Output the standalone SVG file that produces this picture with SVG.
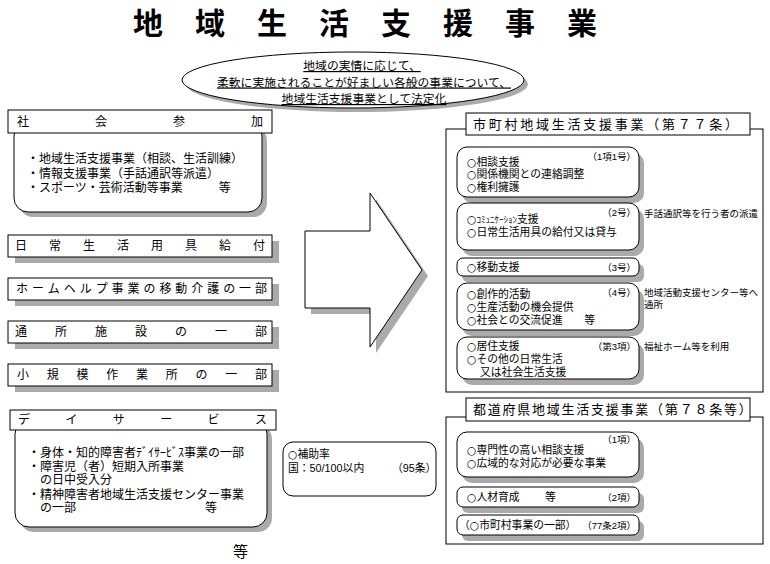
<svg xmlns="http://www.w3.org/2000/svg" width="770" height="564" viewBox="0 0 770 564">
<defs>
<style>
text{font-family:"Liberation Sans","Noto Sans CJK JP",sans-serif;fill:#000}
.o{font-family:"DejaVu Sans","Noto Sans CJK JP",sans-serif}
.box{fill:#fff;stroke:#000;stroke-width:1}
.sh{fill:#aaa;stroke:none}
.h12{font-size:12px}
.b12{font-size:12px}
.i11{font-size:10.8px}
.n9{font-size:9.5px}
.end{text-anchor:end}
.ul{font-size:11.8px;text-decoration:underline;text-anchor:middle}
</style>
</defs>
<rect width="770" height="564" fill="#fff"/>

<g id="title">
<text x="133" y="34" font-size="30" font-weight="bold" letter-spacing="32">地域生活支援事業</text>
</g>

<g id="summary">
<ellipse class="sh" cx="357" cy="84" rx="171" ry="28"/>
<ellipse class="box" cx="353" cy="80" rx="171" ry="28"/>
<text class="ul"><tspan x="362" y="70">地域の実情に応じて、</tspan><tspan x="364" y="86.5">柔軟に実施されることが好ましい各般の事業について、</tspan><tspan x="364" y="103">地域生活支援事業として法定化</tspan></text>
</g>

<g id="shakai-sanka">
<rect class="sh" x="19" y="127" width="248" height="90" rx="14"/>
<rect class="box" x="14" y="122" width="248" height="90" rx="14"/>
<rect class="box" x="8" y="110" width="264" height="23"/>
<text class="h12" x="17 95 173 251" y="126">社会参加</text>
<text class="b12"><tspan x="27" y="163">・地域生活支援事業（相談、生活訓練）</tspan><tspan x="27" y="177.5">・情報支援事業（手話通訳等派遣）</tspan><tspan x="27" y="192">・スポーツ・芸術活動等事業　　　等</tspan></text>
</g>

<g id="nichijo">
<rect class="sh" x="15" y="241" width="264" height="22"/>
<rect class="box" x="8" y="235" width="264" height="22"/>
<text class="h12" x="15 49 83 117 151 185 219 253" y="250">日常生活用具給付</text>
</g>

<g id="homehelp">
<rect class="sh" x="15" y="284" width="264" height="22"/>
<rect class="box" x="8" y="278" width="264" height="22"/>
<text class="h12" x="16 31.93 47.87 63.8 79.73 95.67 111.6 127.53 143.47 159.4 175.33 191.27 207.2 223.13 239.07 255" y="293">ホームヘルプ事業の移動介護の一部</text>
</g>

<g id="tsusho">
<rect class="sh" x="15" y="327" width="264" height="22"/>
<rect class="box" x="8" y="321" width="264" height="22"/>
<text class="h12" x="15 55 95 135 175 215 255" y="336">通所施設の一部</text>
</g>

<g id="shokibo">
<rect class="sh" x="15" y="370" width="264" height="22"/>
<rect class="box" x="8" y="364" width="264" height="22"/>
<text class="h12" x="17 46.75 76.5 106.25 136 165.75 195.5 225.25 255" y="379">小規模作業所の一部</text>
</g>

<g id="dayservice">
<rect class="sh" x="20" y="425" width="252" height="107" rx="14"/>
<rect class="box" x="15" y="420" width="252" height="107" rx="14"/>
<rect class="box" x="10" y="410" width="266" height="20"/>
<text class="h12" x="18 65.4 112.8 160.2 207.6 255" y="424">デイサービス</text>
<text class="b12"><tspan x="28" y="457">・身体・知的障害者ﾃﾞｲｻｰﾋﾞｽ事業の一部</tspan><tspan x="28" y="470.5">・障害児（者）短期入所事業</tspan><tspan x="40" y="484">の日中受入分</tspan><tspan x="28" y="498.5">・精神障害者地域生活支援センター事業</tspan><tspan x="40" y="512">の一部</tspan><tspan x="205" y="512">等</tspan></text>
</g>

<g id="etc">
<text x="233" y="557" font-size="15">等</text>
</g>

<g id="subsidy">
<rect class="box" x="283" y="442" width="153" height="54" rx="10"/>
<text class="i11"><tspan x="288" y="458"><tspan class="o">○</tspan>補助率</tspan><tspan x="288" y="472">国：50/100以内</tspan><tspan x="392" y="472">（95条）</tspan></text>
</g>

<g id="connectors">
<polygon class="sh" points="311,237 376,237 376,199 428,276 376,353 376,314 311,314"/>
<polygon class="box" points="305,231 370,231 370,193 422,270 370,347 370,308 305,308"/>
</g>

<g id="shichoson">
<rect class="box" x="446" y="129" width="317" height="263"/>
<rect class="box" x="466" y="113" width="284" height="22"/>
<text x="473" y="128.5" font-size="13" letter-spacing="2.75">市町村地域生活支援事業（第７７条）</text>

<rect class="sh" x="462" y="153" width="182" height="50" rx="10"/>
<rect class="box" x="457" y="147" width="182" height="50" rx="10"/>
<text class="n9 end" x="636" y="160">（1項1号）</text>
<text class="i11"><tspan x="467" y="165.5"><tspan class="o">○</tspan>相談支援</tspan><tspan x="467" y="178.3"><tspan class="o">○</tspan>関係機関との連絡調整</tspan><tspan x="467" y="191.1"><tspan class="o">○</tspan>権利擁護</tspan></text>

<rect class="sh" x="462" y="209" width="182" height="47" rx="10"/>
<rect class="box" x="457" y="203" width="182" height="47" rx="10"/>
<text class="n9 end" x="636" y="216">（2号）</text>
<text class="i11"><tspan x="467" y="223"><tspan class="o">○</tspan><tspan font-size="9">ｺﾐｭﾆｹｰｼｮﾝ</tspan>支援</tspan><tspan x="467" y="236"><tspan class="o">○</tspan>日常生活用具の給付又は貸与</tspan></text>
<text class="n9" x="644" y="217">手話通訳等を行う者の派遣</text>

<rect class="sh" x="462" y="264" width="182" height="18" rx="6"/>
<rect class="box" x="457" y="258" width="182" height="18" rx="6"/>
<text class="i11" x="467" y="271"><tspan class="o">○</tspan>移動支援</text>
<text class="n9 end" x="636" y="271">（3号）</text>

<rect class="sh" x="462" y="289" width="182" height="47" rx="10"/>
<rect class="box" x="457" y="283" width="182" height="47" rx="10"/>
<text class="n9 end" x="636" y="296">（4号）</text>
<text class="i11"><tspan x="467" y="298"><tspan class="o">○</tspan>創作的活動</tspan><tspan x="467" y="311"><tspan class="o">○</tspan>生産活動の機会提供</tspan><tspan x="467" y="324"><tspan class="o">○</tspan>社会との交流促進　　等</tspan></text>
<text class="n9"><tspan x="644" y="296">地域活動支援センター等へ</tspan><tspan x="644" y="308">通所</tspan></text>

<rect class="sh" x="462" y="343" width="182" height="42" rx="10"/>
<rect class="box" x="457" y="337" width="182" height="42" rx="10"/>
<text class="n9 end" x="636" y="350">（第3項）</text>
<text class="i11"><tspan x="467" y="350"><tspan class="o">○</tspan>居住支援</tspan><tspan x="467" y="363"><tspan class="o">○</tspan>その他の日常生活</tspan><tspan x="480" y="376">又は社会生活支援</tspan></text>
<text class="n9" x="644" y="350">福祉ホーム等を利用</text>
</g>

<g id="todofuken">
<rect class="box" x="446" y="417" width="317" height="127"/>
<rect class="box" x="466" y="398" width="284" height="23"/>
<text x="473" y="414" font-size="13" letter-spacing="1.76">都道府県地域生活支援事業（第７８条等）</text>

<rect class="sh" x="462" y="438" width="182" height="45" rx="10"/>
<rect class="box" x="457" y="432" width="182" height="45" rx="10"/>
<text class="n9 end" x="636" y="443">（1項）</text>
<text class="i11"><tspan x="467" y="453.5"><tspan class="o">○</tspan>専門性の高い相談支援</tspan><tspan x="467" y="466.5"><tspan class="o">○</tspan>広域的な対応が必要な事業</tspan></text>

<rect class="sh" x="462" y="493" width="182" height="20" rx="6"/>
<rect class="box" x="457" y="487" width="182" height="20" rx="6"/>
<text class="i11"><tspan x="467" y="501"><tspan class="o">○</tspan>人材育成</tspan><tspan x="545" y="501">等</tspan></text>
<text class="n9 end" x="636" y="501">（2項）</text>

<rect class="sh" x="462" y="521" width="182" height="20" rx="6"/>
<rect class="box" x="457" y="515" width="182" height="20" rx="6"/>
<text class="i11" x="459" y="529">（<tspan class="o">○</tspan>市町村事業の一部）</text>
<text class="n9 end" x="636" y="529">（77条2項）</text>
</g>
</svg>
